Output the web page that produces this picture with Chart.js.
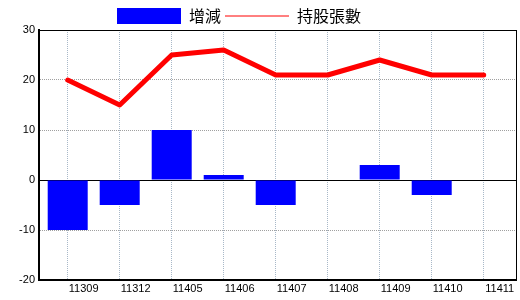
<!DOCTYPE html>
<html><head><meta charset="utf-8">
<script src="https://cdn.jsdelivr.net/npm/chart.js@4"></script>
<style>html,body{margin:0;padding:0;background:#fff;}#wrap{width:520px;height:300px;position:relative;}</style>
</head><body><div id="wrap"><canvas id="c"></canvas></div>
<script>
const categories = ['11309','11312','11405','11406','11407','11408','11409','11410','11411'];
const changeValues = [-10, -5, 10, 1, -5, 0, 3, -3, 0];
const holderValues = [20, 15, 25, 26, 21, 21, 24, 21, 21];
const yTickValues = [-20, -10, 0, 10, 20, 30];
const seriesNames = ['增減', '持股張數'];

const xIndex = categories.map((_, i) => i);
const tickFont = { family: 'Liberation Sans', size: 11 };

const legendShift = {
  id: 'legendShift',
  beforeDraw(chart) { if (chart.legend) { chart.legend.left = 113; chart.legend.top = 4; } }
};

new Chart(document.getElementById('c'), {
  type: 'bar',
  data: {
    datasets: [
      {
        type: 'bar', label: seriesNames[0],
        data: xIndex.map(i => ({ x: i, y: changeValues[i] })),
        backgroundColor: '#0000ff', borderWidth: 0, barThickness: 40, inflateAmount: 0
      },
      {
        type: 'line', label: seriesNames[1],
        data: xIndex.map(i => ({ x: i, y: holderValues[i] })),
        borderColor: '#ff0000', backgroundColor: '#ff0000', borderWidth: 5,
        pointRadius: 0, tension: 0, borderCapStyle: 'round', borderJoinStyle: 'round'
      }
    ]
  },
  options: {
    responsive: true, maintainAspectRatio: false, animation: false,
    layout: { padding: { top: 0, right: 0, bottom: 0, left: 0 } },
    plugins: {
      tooltip: { enabled: false },
      legend: {
        display: true, position: 'top', align: 'start',
        labels: {
          usePointStyle: true, pointStyleWidth: 64, boxHeight: 16, padding: 4,
          color: '#000', font: { family: 'Noto Sans CJK TC', size: 16 },
          generateLabels: (chart) => chart.data.datasets.map((ds, i) => ({
            text: ds.label, datasetIndex: i, hidden: false,
            fillStyle: ds.type === 'bar' ? ds.backgroundColor : 'rgba(0,0,0,0)',
            strokeStyle: ds.type === 'bar' ? ds.backgroundColor : ds.borderColor,
            lineWidth: ds.type === 'bar' ? 0 : 1,
            pointStyle: ds.type === 'bar' ? 'rect' : 'line',
            fontColor: '#000'
          }))
        }
      }
    },
    scales: {
      x: {
        type: 'linear', min: -0.552, max: 8.621, offset: false,
        afterBuildTicks: s => { s.ticks = xIndex.map(v => ({ value: v })); },
        afterFit: s => { s.height = 20; },
        ticks: {
          callback: v => categories[v], labelOffset: 16, padding: 2,
          maxRotation: 0, autoSkip: false, font: tickFont, color: '#000'
        },
        grid: { color: '#a8b8c8', drawTicks: false, offset: false, lineWidth: 1 },
        border: { color: '#000', width: 2, dash: [1, 1] }
      },
      y: {
        type: 'linear', min: -20, max: 30, position: 'left',
        afterBuildTicks: s => { s.ticks = yTickValues.map(v => ({ value: v })); },
        afterFit: s => { s.width = 39; },
        ticks: { padding: 4, font: tickFont, color: '#000' },
        grid: {
          drawTicks: false,
          color: c => {
            const v = c.tick ? c.tick.value : null;
            if (v === 0 || v === 30) return '#000';
            if (v === -20) return 'rgba(0,0,0,0)';
            return '#a0a0a0';
          }
        },
        border: {
          color: '#000', width: 2,
          dash: c => (c.tick && (c.tick.value === 0 || c.tick.value === 30)) ? [] : [1, 1]
        }
      },
      y2: {
        type: 'linear', position: 'right', display: true,
        afterFit: s => { s.width = 4; },
        ticks: { display: false },
        grid: { drawOnChartArea: false, drawTicks: false },
        border: { color: '#000', width: 1 }
      }
    }
  },
  plugins: [legendShift]
});
</script>
</body></html>
